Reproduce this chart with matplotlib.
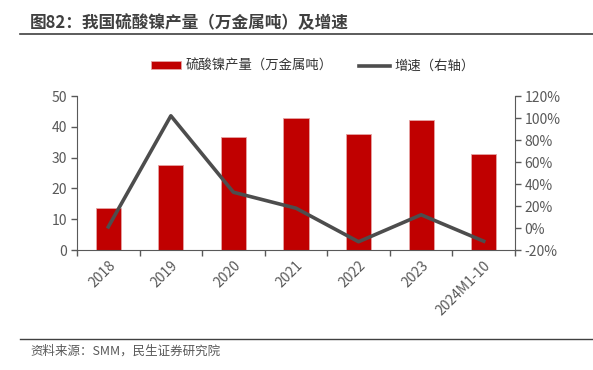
import matplotlib
matplotlib.use("Agg")
import matplotlib.pyplot as plt
import numpy as np

plt.rcParams['font.family'] = ['Noto Sans CJK SC', 'DejaVu Sans']

categories = ["2018", "2019", "2020", "2021", "2022", "2023", "2024M1-10"]
production = [13.7, 27.6, 36.6, 43.0, 37.7, 42.3, 31.3]
growth = [1.0, 102.0, 32.5, 18.0, -12.5, 12.0, -12.0]
left_ticks = [0, 10, 20, 30, 40, 50]
right_ticks = [-20, 0, 20, 40, 60, 80, 100, 120]

W, H = 593, 370
fig = plt.figure(figsize=(W / 100, H / 100), dpi=100)

ax = fig.add_axes([77 / W, 1 - 250 / H, (515 - 77) / W, (250 - 96) / H])
ax2 = ax.twinx()

x = np.arange(len(categories))
gray = '#595959'
bars = ax.bar(x, production, width=0.4, color='#C00000', edgecolor='#E6A3A3',
              linewidth=0.6, label='硫酸镍产量（万金属吨）', zorder=2)
line, = ax2.plot(x, growth, color='#4D4D4D', lw=2.6, label='增速（右轴）', zorder=3)

ax.set_xlim(-0.5, len(categories) - 0.5)
ax.set_ylim(0, 50)
ax.set_yticks(left_ticks)
ax2.set_ylim(-20, 120)
ax2.set_yticks(right_ticks)
ax2.set_yticklabels([f"{v}%" for v in right_ticks])

ax.set_xticks(x)
ax.set_xticklabels(categories, rotation=45, ha='right', rotation_mode='anchor')
ax.set_xticks(np.arange(-0.5, len(categories)), minor=True)
ax.tick_params(axis='x', which='major', length=0, labelsize=10, colors=gray, pad=6)
ax.tick_params(axis='x', which='minor', length=4, color=gray, width=1, direction='out')
ax.tick_params(axis='y', labelsize=10, colors=gray, length=4, width=1, color=gray, pad=3)
ax2.tick_params(axis='y', labelsize=10, colors=gray, length=4, width=1, color=gray, pad=3)

for a in (ax, ax2):
    a.spines['top'].set_visible(False)
    a.spines['left'].set_color(gray)
    a.spines['right'].set_color(gray)
    a.spines['bottom'].set_color(gray)
ax.spines['right'].set_visible(False)
ax2.spines['left'].set_visible(False)
ax2.spines['bottom'].set_visible(False)

fig.legend([bars, line], ['硫酸镍产量（万金属吨）', '增速（右轴）'], loc='center',
           bbox_to_anchor=(0.5 + 16 / W, 1 - 66 / H), ncol=2, frameon=False, fontsize=9.6,
           handlelength=2.3, handleheight=0.5, handletextpad=0.3, columnspacing=2.0,
           labelcolor='#333333')

fig.text(30 / W, 1 - 23 / H, "图82：我国硫酸镍产量（万金属吨）及增速", fontsize=12,
         fontweight='bold', color='#404040', va='center', ha='left')
fig.add_artist(plt.Line2D([20 / W, 1.0], [1 - 34 / H, 1 - 34 / H], color='#404040', lw=1.2))
fig.add_artist(plt.Line2D([20 / W, 1.0], [1 - 339 / H, 1 - 339 / H], color='#404040', lw=1.0))
fig.text(30 / W, 1 - 351 / H, "资料来源：SMM，民生证券研究院", fontsize=9, color='#595959',
         va='center', ha='left')

fig.savefig("out.png", dpi=100)
